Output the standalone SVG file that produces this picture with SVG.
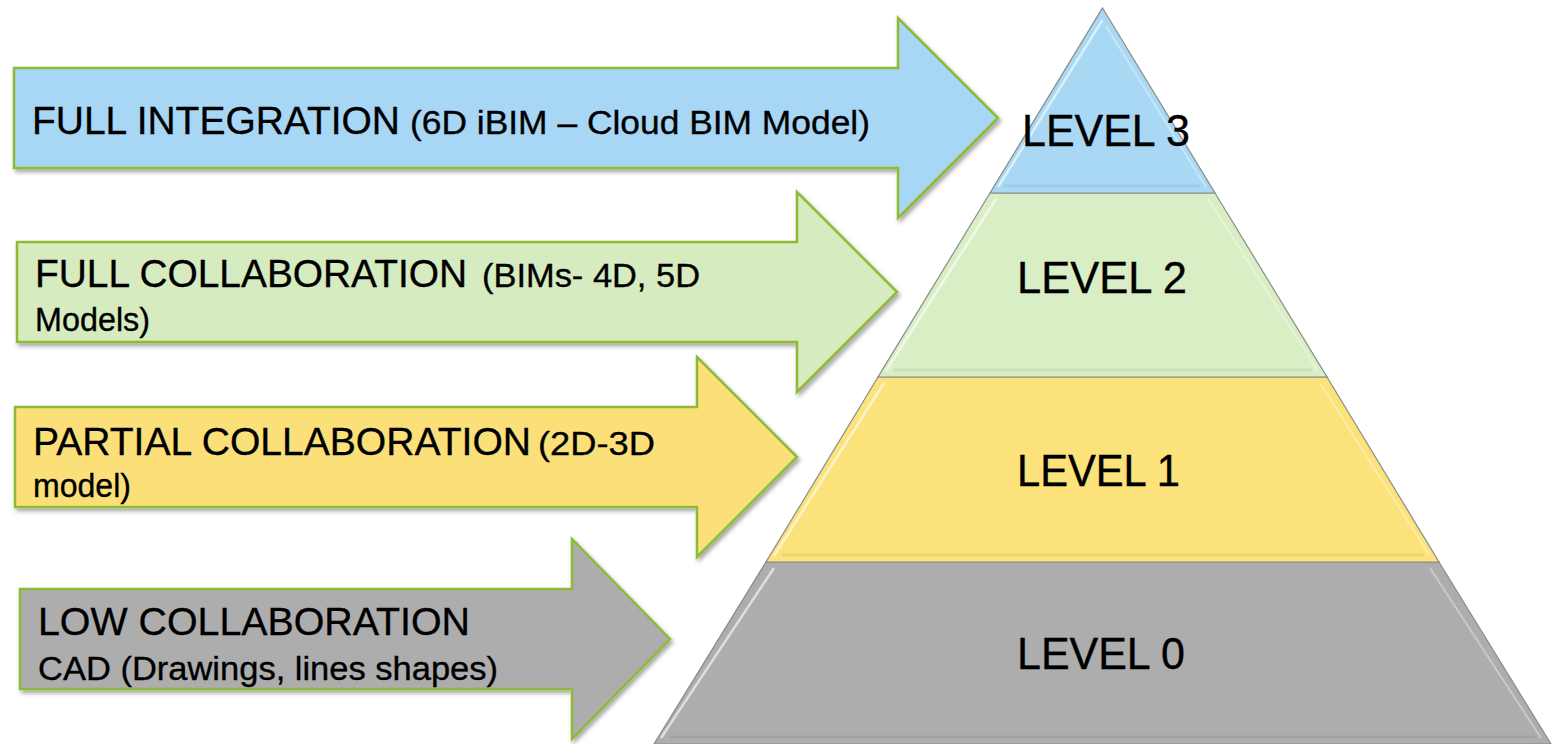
<svg xmlns="http://www.w3.org/2000/svg" width="1558" height="744" viewBox="0 0 1558 744">
  <defs>
    <filter id="sh" x="-5%" y="-10%" width="115%" height="130%">
      <feDropShadow dx="2" dy="3" stdDeviation="2" flood-color="#000" flood-opacity="0.35"/>
    </filter>
  </defs>
  <style>
    .arrow { stroke: #8fba35; stroke-width: 2.5; stroke-linejoin: miter; filter: url(#sh); }
    .layer { stroke: #8a8a8a; stroke-width: 1.2; }
    .bevel { fill: none; stroke: #ffffff; stroke-opacity: 0.6; stroke-width: 2.5; }
    .bevelR { fill: none; stroke: #ffffff; stroke-opacity: 0.35; stroke-width: 2; }
    .bevelD { fill: none; stroke: #000000; stroke-opacity: 0.06; stroke-width: 3; }
    .t { font-family: "Liberation Sans", Arial, sans-serif; fill: #000; stroke: #000; stroke-width: 0.35; }
    .big { font-size: 39px; }
    .small { font-size: 33px; }
    .lvl { font-family: "Liberation Sans", Arial, sans-serif; font-size: 45px; fill: #000; stroke: #000; stroke-width: 0.4; }
  </style>
  <rect width="1558" height="744" fill="#ffffff"/>

  <!-- Pyramid -->
  <g id="level0">
    <polygon class="layer" points="766,562 1439,562 1551,744 654,744" fill="#adadad"/>
    <polyline class="bevel" points="661,738 774,568"/>
    <polyline class="bevelR" points="1430,568 1541,738"/>
    <polyline class="bevelD" points="670,737 1535,737"/>
    <text class="lvl" x="1017" y="669" font-size="47" textLength="168" lengthAdjust="spacingAndGlyphs">LEVEL 0</text>
  </g>
  <g id="level1">
    <polygon class="layer" points="878,377 1327,377 1439,562 766,562" fill="#fbe27a"/>
    <polyline class="bevel" points="774,556 884,383"/>
    <polyline class="bevelR" points="1320,383 1430,556"/>
    <polyline class="bevelD" points="782,555 1424,555"/>
    <text class="lvl" x="1017" y="486" textLength="163" lengthAdjust="spacingAndGlyphs">LEVEL 1</text>
  </g>
  <g id="level2">
    <polygon class="layer" points="990,193 1215,193 1327,377 878,377" fill="#d9eec4"/>
    <polyline class="bevel" points="886,371 996,199"/>
    <polyline class="bevelR" points="1208,199 1318,371"/>
    <polyline class="bevelD" points="894,370 1312,370"/>
    <text class="lvl" x="1017" y="293" textLength="170" lengthAdjust="spacingAndGlyphs">LEVEL 2</text>
  </g>
  <g id="level3">
    <polygon class="layer" points="1102.5,8 1215,193 990,193" fill="#a9d8f4"/>
    <polyline class="bevel" points="998,187 1102.5,20"/>
    <polyline class="bevelR" points="1106,26 1206,187"/>
    <polyline class="bevelD" points="1004,186 1200,186"/>
    <text class="lvl" x="1022" y="146" textLength="168" lengthAdjust="spacingAndGlyphs">LEVEL 3</text>
  </g>

  <!-- Arrows -->
  <g id="arrow-full-integration">
    <polygon class="arrow" fill="#a7d7f5" points="14,68 898,68 898,18 998,118 898,218 898,168 14,168"/>
    <text class="t" y="134"><tspan class="big" x="32" textLength="368" lengthAdjust="spacingAndGlyphs">FULL INTEGRATION</tspan><tspan class="small" x="410" textLength="460" lengthAdjust="spacingAndGlyphs">(6D iBIM – Cloud BIM Model)</tspan></text>
  </g>
  <g id="arrow-full-collaboration">
    <polygon class="arrow" fill="#d6ebbf" points="17,242 797,242 797,192 897,292 797,392 797,342 17,342"/>
    <text class="t" y="287"><tspan class="big" x="35" textLength="432" lengthAdjust="spacingAndGlyphs">FULL COLLABORATION</tspan><tspan class="small" x="482" textLength="218" lengthAdjust="spacingAndGlyphs">(BIMs- 4D, 5D</tspan></text>
    <text class="t small" x="35" y="331" textLength="115" lengthAdjust="spacingAndGlyphs">Models)</text>
  </g>
  <g id="arrow-partial-collaboration">
    <polygon class="arrow" fill="#fbe07a" points="15,407 697,407 697,357 797,457 697,557 697,507 15,507"/>
    <text class="t" y="455"><tspan class="big" x="33" textLength="498" lengthAdjust="spacingAndGlyphs">PARTIAL COLLABORATION</tspan><tspan class="small" x="538" textLength="117" lengthAdjust="spacingAndGlyphs">(2D-3D</tspan></text>
    <text class="t small" x="33" y="497" textLength="98" lengthAdjust="spacingAndGlyphs">model)</text>
  </g>
  <g id="arrow-low-collaboration">
    <polygon class="arrow" fill="#adadad" points="20,589 572,589 572,539 670,639 572,739 572,689 20,689"/>
    <text class="t big" x="38" y="635" textLength="432" lengthAdjust="spacingAndGlyphs">LOW COLLABORATION</text>
    <text class="t small" x="38" y="680" textLength="460" lengthAdjust="spacingAndGlyphs">CAD (Drawings, lines shapes)</text>
  </g>
</svg>
